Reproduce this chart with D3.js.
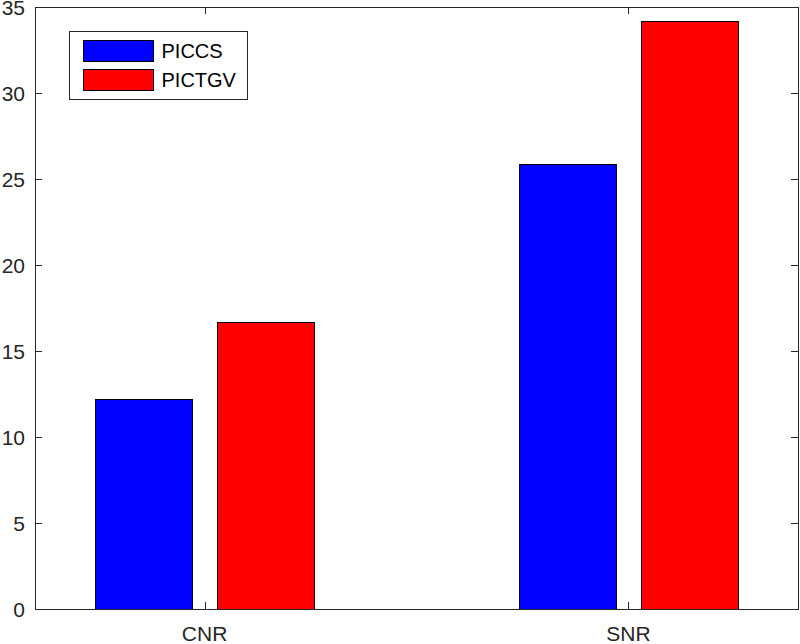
<!DOCTYPE html>
<html>
<head>
<meta charset="utf-8">
<script src="https://cdn.jsdelivr.net/npm/d3@7"></script>
<style>
  body { margin: 0; background: #fff; }
  svg { display: block; font-family: "Liberation Sans", Arial, sans-serif; }
</style>
</head>
<body>
<script>
var categories = ['CNR', 'SNR'];
var seriesNames = ['PICCS', 'PICTGV'];
var seriesColors = ['#0000ff', '#ff0000'];
var piccs = [12.2, 25.9];
var pictgv = [16.7, 34.2];
var yTicks = [0, 5, 10, 15, 20, 25, 30, 35];

var width = 800, height = 644;
var margin = {top: 7, right: 2, bottom: 35, left: 35};
var axisColor = '#262626';

var svg = d3.select('body').append('svg')
    .attr('width', width)
    .attr('height', height);

var plotW = width - margin.left - margin.right;
var plotH = height - margin.top - margin.bottom;

var g = svg.append('g')
    .attr('transform', 'translate(' + margin.left + ',' + margin.top + ')');

// numeric x like matlab: categories at 1, 2 with limits 0.6 .. 2.4
var x = d3.scaleLinear().domain([0.6, 2.4]).range([0, plotW]);
var y = d3.scaleLinear().domain([0, 35]).range([plotH, 0]);

var barOffset = 0.143;
var barW = 0.229;
var series = [piccs, pictgv];

series.forEach(function (vals, si) {
  g.append('g').selectAll('rect')
      .data(vals)
      .enter().append('rect')
      .attr('x', function (d, i) {
        var center = (i + 1) + (si === 0 ? -barOffset : barOffset);
        return Math.round(x(center - barW / 2)) + 0.5;
      })
      .attr('y', function (d) { return Math.round(y(d)) + 0.5; })
      .attr('width', Math.round(x(barW) - x(0)))
      .attr('height', function (d) { return plotH - Math.round(y(d)); })
      .attr('fill', seriesColors[si])
      .attr('stroke', '#000')
      .attr('stroke-width', 1);
});

// box
g.append('rect')
    .attr('x', 0.5).attr('y', 0.5)
    .attr('width', plotW).attr('height', plotH)
    .attr('fill', 'none')
    .attr('stroke', axisColor)
    .attr('stroke-width', 1);

var tickLen = 7;

// y ticks, left and right
yTicks.forEach(function (t) {
  var yy = Math.round(y(t)) + 0.5;
  g.append('line').attr('x1', 0).attr('x2', tickLen).attr('y1', yy).attr('y2', yy)
      .attr('stroke', axisColor);
  g.append('line').attr('x1', plotW - tickLen).attr('x2', plotW).attr('y1', yy).attr('y2', yy)
      .attr('stroke', axisColor);
  g.append('text')
      .attr('x', -10)
      .attr('y', y(t))
      .attr('dy', '0.36em')
      .attr('text-anchor', 'end')
      .attr('font-size', 21)
      .attr('fill', axisColor)
      .text(t);
});

// x ticks, bottom and top
categories.forEach(function (c, i) {
  var xx = Math.round(x(i + 1)) + 0.5;
  g.append('line').attr('x1', xx).attr('x2', xx).attr('y1', plotH).attr('y2', plotH - tickLen)
      .attr('stroke', axisColor);
  g.append('line').attr('x1', xx).attr('x2', xx).attr('y1', 0).attr('y2', tickLen)
      .attr('stroke', axisColor);
  g.append('text')
      .attr('x', x(i + 1))
      .attr('y', plotH + 32)
      .attr('text-anchor', 'middle')
      .attr('font-size', 21)
      .attr('fill', axisColor)
      .text(c);
});

// legend
var legend = svg.append('g').attr('transform', 'translate(69.5,31.5)');
legend.append('rect')
    .attr('width', 178).attr('height', 68)
    .attr('fill', '#fff')
    .attr('stroke', axisColor);

seriesNames.forEach(function (name, i) {
  legend.append('rect')
      .attr('x', 14).attr('y', 9 + i * 29)
      .attr('width', 70).attr('height', 21)
      .attr('fill', seriesColors[i])
      .attr('stroke', '#000');
  legend.append('text')
      .attr('x', 92).attr('y', 19.5 + i * 29)
      .attr('dy', '0.36em')
      .attr('font-size', 20)
      .attr('fill', '#000')
      .text(name);
});
</script>
</body>
</html>
